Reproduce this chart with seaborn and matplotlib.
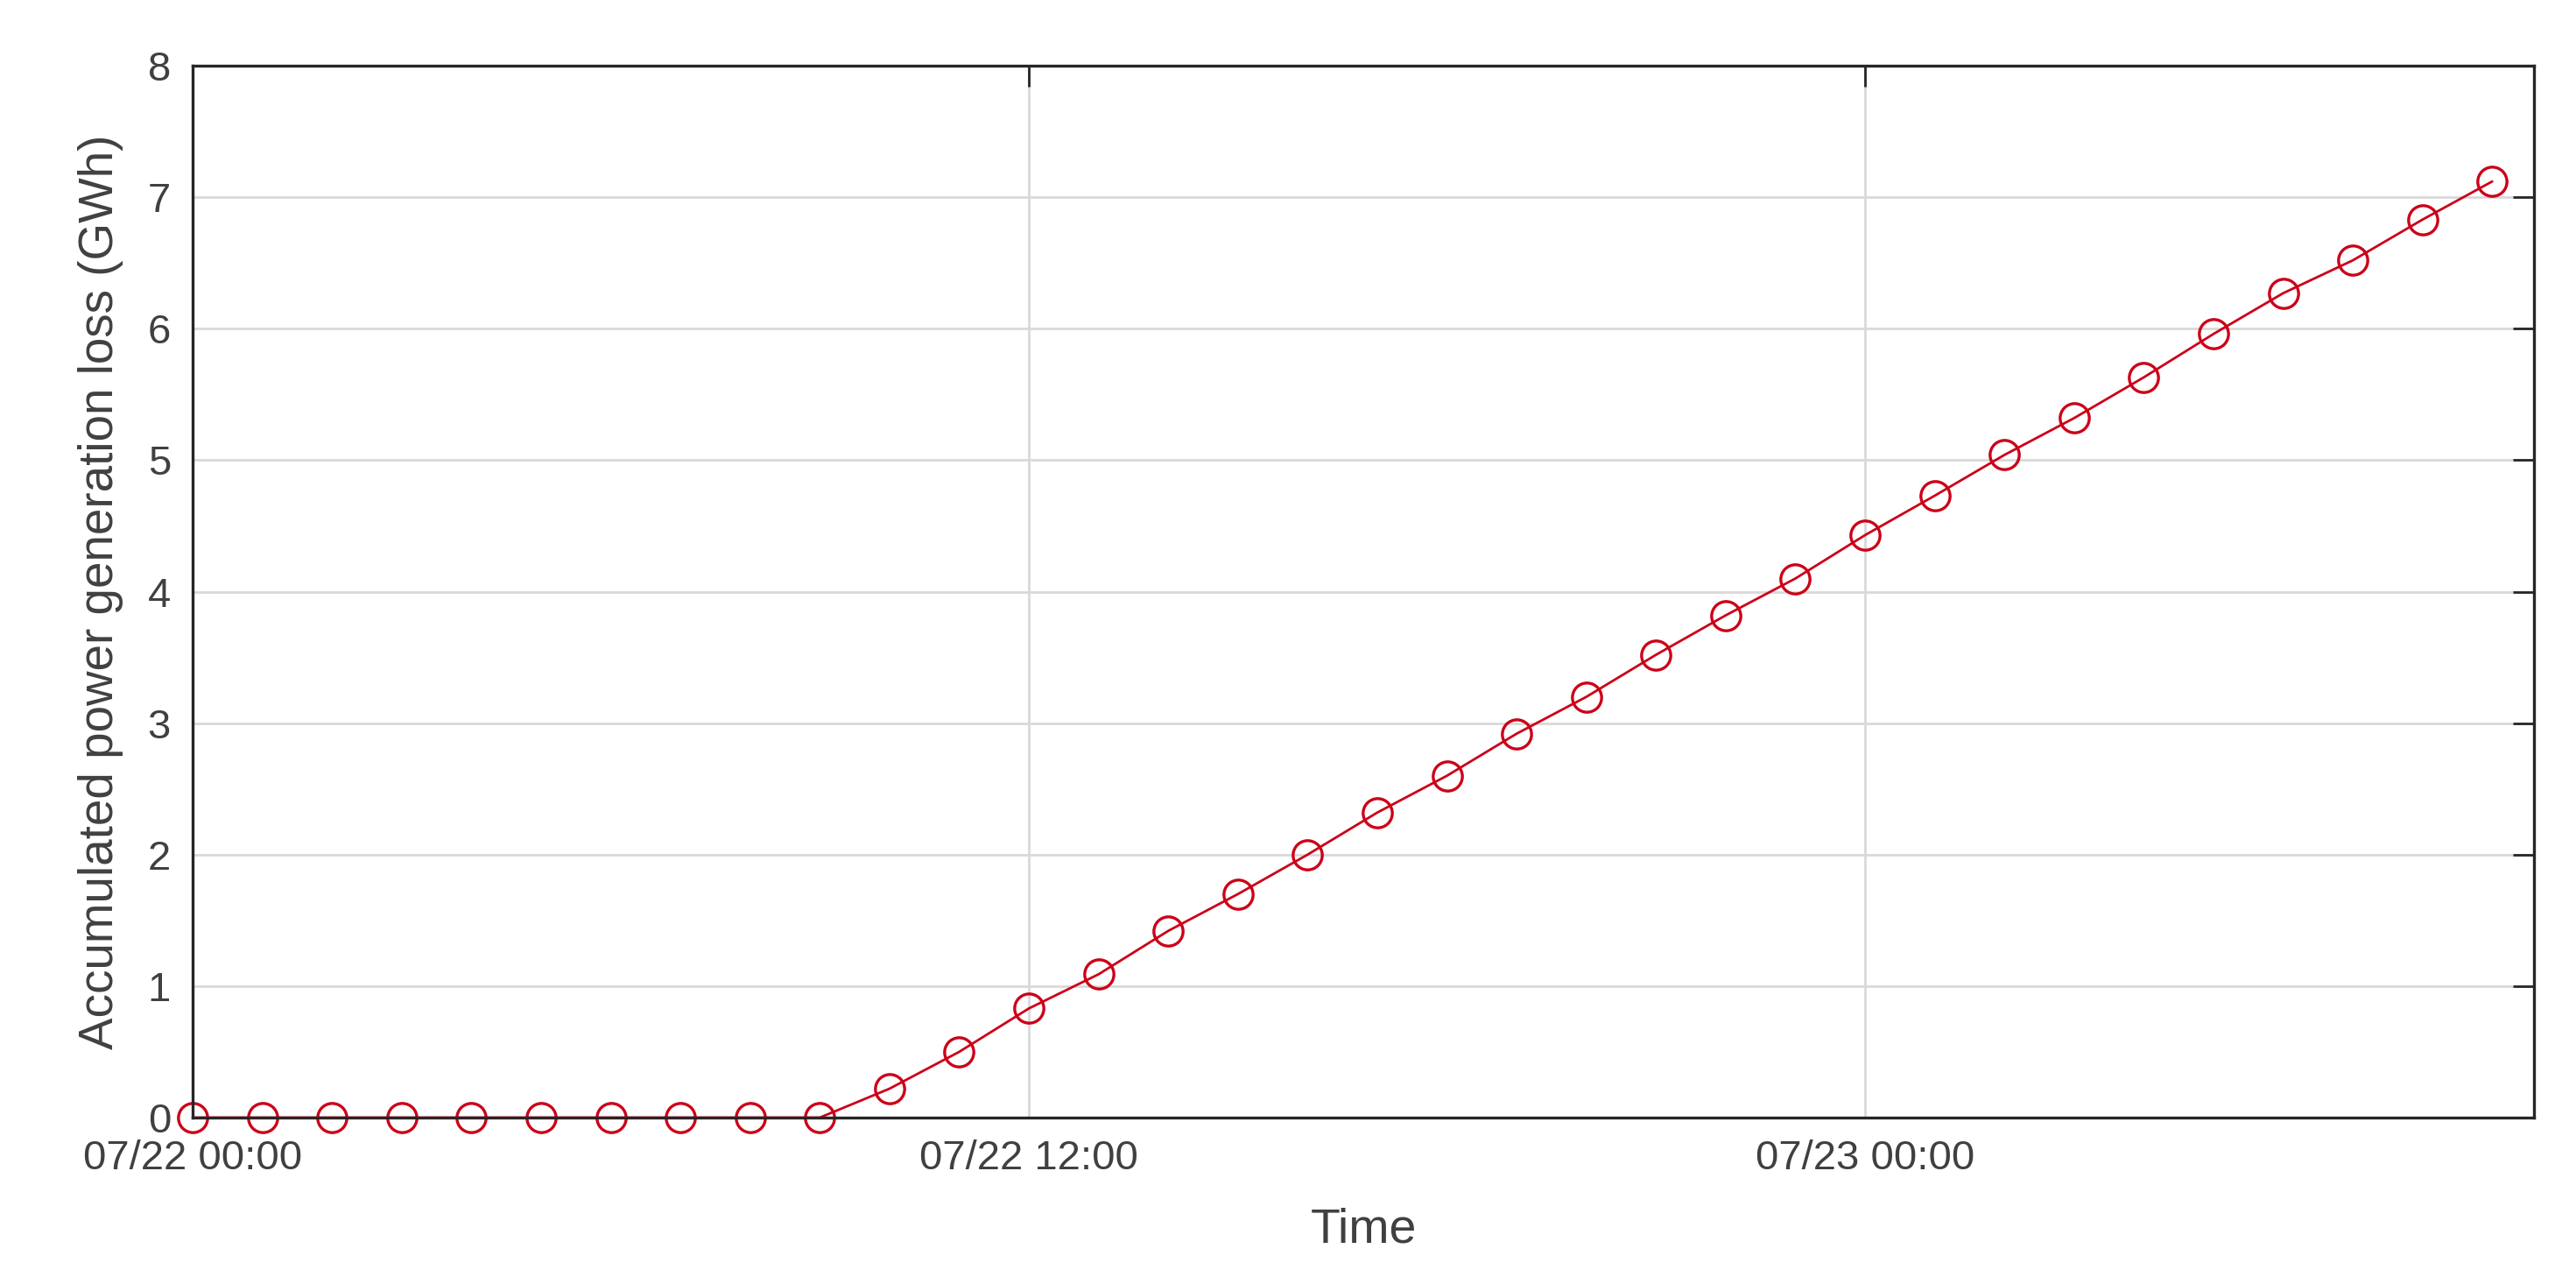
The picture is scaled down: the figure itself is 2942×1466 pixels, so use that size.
import pandas as pd
import numpy as np
import matplotlib
matplotlib.use("Agg")
import matplotlib.pyplot as plt
import matplotlib.dates as mdates
import seaborn as sns

# Hourly accumulated loss
hours = list(range(34))
loss_gwh = [0, 0, 0, 0, 0, 0, 0, 0, 0, 0,
            0.22, 0.50, 0.83, 1.09, 1.42, 1.70, 2.00, 2.32, 2.60, 2.92,
            3.20, 3.52, 3.82, 4.10, 4.43, 4.73, 5.04, 5.32, 5.63, 5.96,
            6.27, 6.52, 6.83, 7.12]
start_time = "2021-07-22 00:00"
x_ticks = ["2021-07-22 00:00", "2021-07-22 12:00", "2021-07-23 00:00"]
y_ticks = [0, 1, 2, 3, 4, 5, 6, 7, 8]

df = pd.DataFrame({
    "Time": pd.Timestamp(start_time) + pd.to_timedelta(hours, unit="h"),
    "loss": loss_gwh,
})

sns.set_style("white")
plt.rcParams["font.family"] = ["Liberation Sans", "DejaVu Sans"]

fig = plt.figure(figsize=(14.71, 7.33), dpi=200)
ax = fig.add_axes([0.0748, 0.1296, 0.9089, 0.8192])

sns.lineplot(data=df, x="Time", y="loss", ax=ax, color="#cc0018",
             linewidth=1.0, marker="o", markersize=12, markerfacecolor="none",
             markeredgecolor="#cc0018", markeredgewidth=1.2)
for ln in ax.lines:
    ln.set_clip_on(False)

t0 = pd.Timestamp(start_time)
ax.set_xlim(mdates.date2num(t0), mdates.date2num(t0 + pd.Timedelta(hours=33.6)))
ax.set_ylim(0, 8)
ax.set_xticks([mdates.date2num(pd.Timestamp(t)) for t in x_ticks])
ax.xaxis.set_major_formatter(mdates.DateFormatter("%m/%d %H:%M"))
ax.set_yticks(y_ticks)

ax.grid(True, color="#d9d9d9", linewidth=1.0)
ax.set_axisbelow(True)
for s in ax.spines.values():
    s.set_color("#262626")
    s.set_linewidth(1.2)
ax.tick_params(direction="in", length=8.5, width=1.0, top=True, right=True,
               labelsize=17, colors="#262626", labelcolor="#404040", pad=9)

ax.set_xlabel("Time", fontsize=20, color="#404040", labelpad=12)
ax.set_ylabel("Accumulated power generation loss (GWh)", fontsize=19.7,
              color="#404040", labelpad=10)

fig.savefig("out.png", dpi=200, facecolor="white")
